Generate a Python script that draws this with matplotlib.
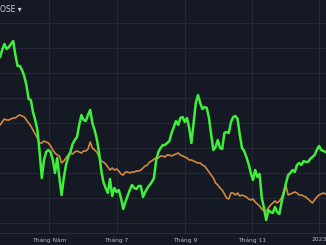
import matplotlib
matplotlib.use("Agg")
import matplotlib.pyplot as plt
import pandas as pd

# readings every 2 days, starting mid March 2022
start = "2022-03-17"
green_vals = [166, 173, 179, 174, 176, 179, 182, 168, 157, 157,
              153, 147, 138, 124, 123, 111, 103, 93, 71, 45,
              63, 71, 73, 71, 63, 50, 65, 45, 28, 45,
              58, 66, 71, 79, 83, 86, 98, 108, 103, 102,
              108, 113, 100, 93, 84, 71, 53, 41, 35, 30,
              44, 27, 35, 31, 33, 25, 14, 21, 27, 33,
              38, 35, 34, 37, 37, 26, 31, 35, 38, 41,
              45, 63, 71, 75, 78, 78, 80, 82, 90, 96,
              102, 98, 105, 106, 101, 105, 95, 80, 100, 120,
              128, 120, 114, 116, 115, 105, 88, 73, 76, 83,
              75, 74, 90, 91, 90, 101, 106, 107, 104, 88,
              75, 72, 66, 59, 50, 43, 53, 46, 49, 25,
              15, 3, 13, 11, 10, 16, 11, 9, 21, 30,
              40, 48, 50, 53, 51, 58, 60, 58, 62, 61,
              61, 64, 66, 68, 73, 77, 73, 72, 71]
orange_vals = [98, 101, 104, 103, 103, 104, 105, 105, 107, 108,
               107, 106, 103, 100, 97, 93, 89, 85, 80, 80,
               82, 81, 80, 77, 73, 70, 68, 67, 60, 62,
               65, 68, 70, 69, 71, 72, 71, 70, 72, 72,
               74, 81, 75, 73, 71, 66, 62, 61, 59, 56,
               53, 55, 53, 54, 52, 49, 48, 51, 51, 50,
               51, 51, 52, 52, 53, 55, 57, 58, 61, 62,
               64, 65, 65, 67, 67, 66, 68, 68, 67, 68,
               69, 70, 68, 67, 66, 65, 63, 63, 62, 61,
               60, 60, 58, 57, 54, 51, 48, 45, 40, 38,
               35, 33, 29, 25, 24, 30, 30, 28, 30, 27,
               28, 27, 26, 24, 23, 24, 21, 19, 17, 14,
               12, 12, 15, 18, 20, 22, 20, 22, 25, 32,
               37, 28, 29, 30, 31, 30, 28, 28, 27, 26,
               24, 22, 20, 23, 26, 28, 29, 30, 29]
month_ticks = ["2022-05-01", "2022-07-01", "2022-09-01", "2022-11-01", "2023-01-01"]
month_labels = ["Tháng Năm", "Tháng 7", "Tháng 9", "Tháng 11", "2023"]
grid_levels = [0, 25, 50, 75, 100, 125, 150, 175, 200]

dates = pd.date_range(start, periods=len(green_vals), freq="2D")

bg = "#151924"
grid_col = "#262a35"

fig = plt.figure(figsize=(3.26, 2.45), dpi=100)
fig.patch.set_facecolor(bg)
ax = fig.add_axes([0, 12 / 245, 1, 233 / 245])
ax.set_facecolor(bg)

ax.plot(dates, orange_vals, color="#d08a3e", lw=1.2)
ax.plot(dates, green_vals, color="#3ef03a", lw=1.8)

ax.set_xlim(pd.Timestamp(start), pd.Timestamp("2023-01-07 09:00"))
ax.set_ylim(-10, 223)

ax.set_xticks(pd.to_datetime(month_ticks))
ax.set_xticklabels(month_labels)
ax.set_yticks(grid_levels)
ax.set_yticklabels([])
ax.grid(True, color=grid_col, lw=0.8)
ax.set_axisbelow(True)
ax.tick_params(axis="x", length=0, pad=3, labelsize=4.3, labelcolor="#b2b5be")
ax.tick_params(axis="y", length=0)
for side in ["top", "left", "right"]:
    ax.spines[side].set_visible(False)
ax.spines["bottom"].set_color("#2a2e39")

fig.text(0, 1 - 10 / 245, "OSE ▾", fontsize=5.5, color="#d1d4dc", va="center", ha="left")

fig.savefig("out.png", dpi=100, facecolor=bg)
